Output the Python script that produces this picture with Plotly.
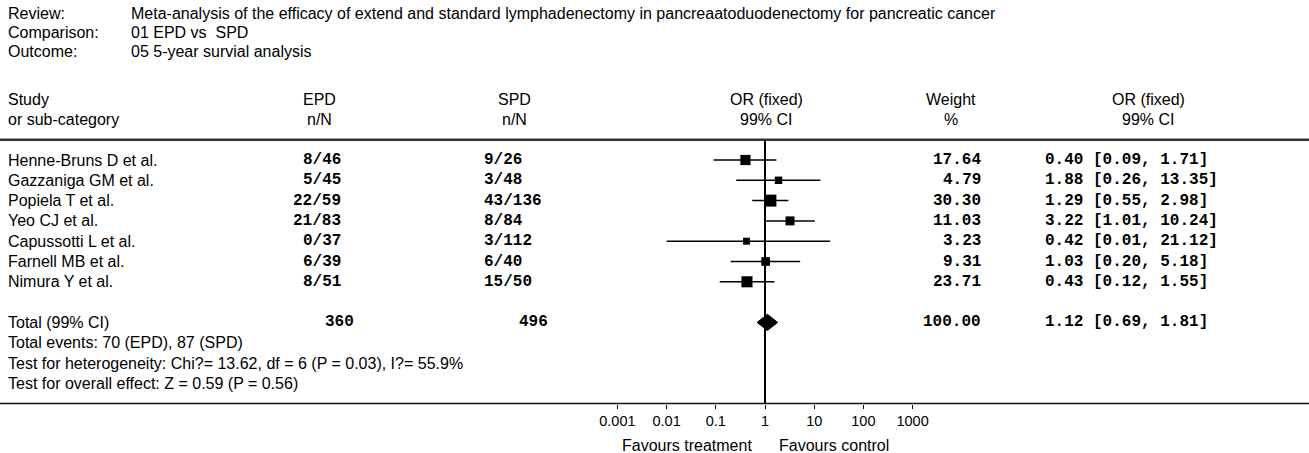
import plotly.graph_objects as go

W, H = 1309, 453

# ---------------- data ----------------
header_labels = ["Review:", "Comparison:", "Outcome:"]
header_values = [
    "Meta-analysis of the efficacy of extend and standard lymphadenectomy in pancreaatoduodenectomy for pancreatic cancer",
    "01 EPD vs  SPD",
    "05 5-year survial analysis",
]
studies = ["Henne-Bruns D et al.", "Gazzaniga GM et al.", "Popiela T et al.", "Yeo CJ et al.",
           "Capussotti L et al.", "Farnell MB et al.", "Nimura Y et al."]
epd = ["8/46", "5/45", "22/59", "21/83", "0/37", "6/39", "8/51"]
spd = ["9/26", "3/48", "43/136", "8/84", "3/112", "6/40", "15/50"]
weights = [17.64, 4.79, 30.30, 11.03, 3.23, 9.31, 23.71]
or_vals = [0.40, 1.88, 1.29, 3.22, 0.42, 1.03, 0.43]
ci_low = [0.09, 0.26, 0.55, 1.01, 0.01, 0.20, 0.12]
ci_high = [1.71, 13.35, 2.98, 10.24, 21.12, 5.18, 1.55]

total_label = "Total (99% CI)"
total_epd_n = 360
total_spd_n = 496
total_weight = 100.00
total_or, total_low, total_high = 1.12, 0.69, 1.81
footer_lines = [
    "Total events: 70 (EPD), 87 (SPD)",
    "Test for heterogeneity: Chi?= 13.62, df = 6 (P = 0.03), I?= 55.9%",
    "Test for overall effect: Z = 0.59 (P = 0.56)",
]
tick_vals = [0.001, 0.01, 0.1, 1, 10, 100, 1000]
tick_text = ["0.001", "0.01", "0.1", "1", "10", "100", "1000"]

# ---------------- layout helpers ----------------
SANS = "Liberation Sans, Arial, sans-serif"
MONO = "Liberation Mono, Courier New, monospace"
FS = 16
FM = 16


def px(x):
    return x / W


n = len(studies)
rows = list(range(n))
total_row = n + 1
foot_rows = [total_row + 1 + k for k in range(len(footer_lines))]
axis_row = foot_rows[-1] + 1
head_line_row = -1

fig = go.Figure()

# reference line at OR = 1
fig.add_trace(go.Scatter(x=[1, 1], y=[head_line_row, axis_row], mode="lines",
                         line=dict(color="black", width=2), hoverinfo="skip", showlegend=False))

# CI lines
cx, cy = [], []
for i in rows:
    cx += [ci_low[i], ci_high[i], None]
    cy += [i, i, None]
fig.add_trace(go.Scatter(x=cx, y=cy, mode="lines", line=dict(color="black", width=1.5),
                         hoverinfo="skip", showlegend=False))

# point estimates (square size from weight)
sizes = [4.5 + 1.35 * w ** 0.5 for w in weights]
fig.add_trace(go.Scatter(x=or_vals, y=rows, mode="markers",
                         marker=dict(symbol="square", size=sizes, color="black", opacity=1,
                                     line=dict(width=0)),
                         hoverinfo="skip", showlegend=False))

# pooled diamond
dh = 0.4
fig.add_trace(go.Scatter(x=[total_low, total_or, total_high, total_or, total_low],
                         y=[total_row, total_row - dh, total_row, total_row + dh, total_row],
                         mode="lines", fill="toself", fillcolor="black",
                         line=dict(color="black", width=1), hoverinfo="skip", showlegend=False))

ann = []


def add(text, x, y, anchor="left", font=SANS, size=FS, yref="y", bold=False, color="#000"):
    ann.append(dict(text=("<b>%s</b>" % text) if bold else text, x=px(x), y=y, xref="paper", yref=yref,
                    xanchor=anchor, yanchor="middle", showarrow=False,
                    font=dict(family=font, size=size, color=color)))


# header block
for k, (lab, val) in enumerate(zip(header_labels, header_values)):
    yy = 1 - (13 + 19 * k) / H
    add(lab, 6, yy, yref="paper")
    add(val, 129, yy, yref="paper")

# column headers
add("Study", 6, -3)
add("or sub-category", 6, -2)
add("EPD", 319, -3, "center")
add("n/N", 319, -2, "center")
add("SPD", 514, -3, "center")
add("n/N", 514, -2, "center")
add("OR (fixed)", 766, -3, "center")
add("99% CI", 766, -2, "center")
add("Weight", 951, -3, "center")
add("%", 951, -2, "center")
add("OR (fixed)", 1148, -3, "center")
add("99% CI", 1148, -2, "center")

# study rows
for i in rows:
    add(studies[i], 6, i)
    add(epd[i], 343, i, "right", MONO, FM, bold=True)
    add(spd[i], 482, i, "left", MONO, FM, bold=True)
    add("%.2f" % weights[i], 983, i, "right", MONO, FM, bold=True)
    add("%.2f [%.2f, %.2f]" % (or_vals[i], ci_low[i], ci_high[i]), 1043, i, "left", MONO, FM, bold=True)

# totals
add(total_label, 6, total_row)
add(str(total_epd_n), 323, total_row, "left", MONO, FM, bold=True)
add(str(total_spd_n), 517, total_row, "left", MONO, FM, bold=True)
add("%.2f" % total_weight, 983, total_row, "right", MONO, FM, bold=True)
add("%.2f [%.2f, %.2f]" % (total_or, total_low, total_high), 1043, total_row, "left", MONO, FM, bold=True)

for r, t in zip(foot_rows, footer_lines):
    add(t, 6, r)

# favours labels
add("Favours treatment", 754, 1 - 445 / H, "right", yref="paper")
add("Favours control", 777, 1 - 445 / H, "left", yref="paper")

# y mapping: row r -> pixel 160 + 20.3*r
y_top = (0 - 160) / 20.3
y_bot = (H - 160) / 20.3

shapes = [
    dict(type="line", xref="paper", yref="y", x0=0, x1=1, y0=head_line_row, y1=head_line_row,
         line=dict(color="#333", width=2.5)),
    dict(type="line", xref="paper", yref="y", x0=0, x1=1, y0=axis_row, y1=axis_row,
         line=dict(color="#111", width=1.5)),
]

x_left, x_right, one_px, decade = 600, 930, 765, 49.2
axis_pos = 1 - (160 + 20.3 * axis_row) / H

fig.update_layout(
    width=W, height=H, margin=dict(l=0, r=0, t=0, b=0),
    paper_bgcolor="white", plot_bgcolor="white",
    annotations=ann, shapes=shapes,
    xaxis=dict(type="log", domain=[px(x_left), px(x_right)],
               range=[(x_left - one_px) / decade, (x_right - one_px) / decade],
               tickvals=tick_vals, ticktext=tick_text, ticks="outside", ticklen=4, tickwidth=1,
               tickcolor="black", showgrid=False, zeroline=False, showline=False,
               anchor="free", position=axis_pos, automargin=False,
               tickfont=dict(family=SANS, size=14.5, color="#000")),
    yaxis=dict(range=[y_bot, y_top], domain=[0, 1], visible=False, showgrid=False,
               zeroline=False, automargin=False),
    showlegend=False,
)

fig.write_html("out.html", config={"displayModeBar": False},
               post_script="document.body.style.margin='0px';document.body.style.overflow='hidden';")
